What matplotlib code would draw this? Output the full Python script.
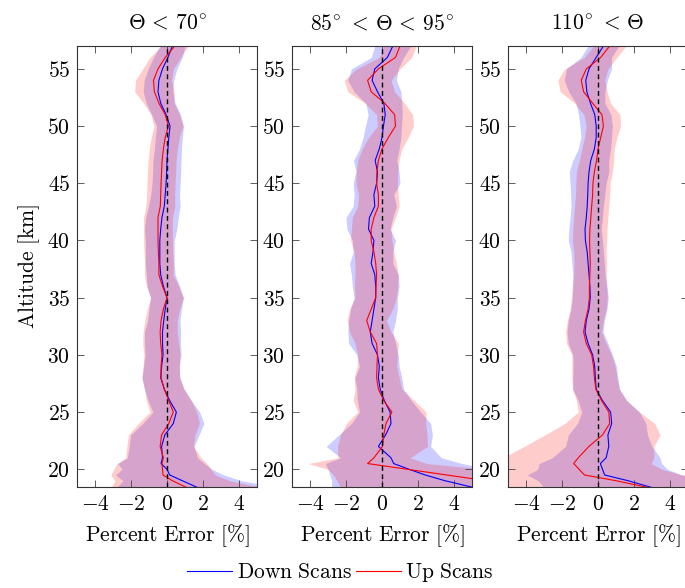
import matplotlib

matplotlib.use("Agg")
import matplotlib.pyplot as plt
import numpy as np

plt.rcParams["mathtext.fontset"] = "cm"
plt.rcParams["font.size"] = 11

# altitude grid [km], bottom to top
alt = [18.4, 19.0, 19.5, 20.0, 20.5, 21, 22, 23, 24, 25, 26, 27, 28, 29, 30, 31, 32, 33,
       34, 35, 36, 37, 38, 39, 40, 41, 42, 43, 44, 45, 46, 47, 48, 49, 50, 51, 52, 53,
       54, 55, 56, 57]

titles = [r"$\Theta\,<\,70^{\!\circ}$", r"$85^{\!\circ}\,<\,\Theta\,<\,95^{\!\circ}$",
          r"$110^{\!\circ}\,<\,\Theta$"]

# panel 1: Theta < 70
p1_down = [1.7, 0.85, 0.15, 0.0, -0.33, -0.25, -0.3, -0.12, 0.35, 0.52, 0.15, -0.15, -0.35,
           -0.3, -0.22, -0.25, -0.25, -0.18, -0.1, 0.0, -0.2, -0.35, -0.4, -0.4, -0.4, -0.35,
           -0.28, -0.15, -0.1, -0.05, -0.02, 0.0, 0.05, 0.1, 0.17, -0.05, -0.35, -0.5, -0.45,
           -0.25, 0.05, 0.3]
p1_up = [1.1, 0.3, -0.22, -0.25, -0.28, -0.2, -0.38, -0.3, 0.1, 0.35, 0.1, -0.15, -0.33,
         -0.33, -0.28, -0.35, -0.38, -0.33, -0.2, 0.0, -0.25, -0.45, -0.45, -0.48, -0.5, -0.5,
         -0.5, -0.37, -0.35, -0.33, -0.3, -0.27, -0.2, -0.1, 0.08, -0.1, -0.45, -0.7, -0.75,
         -0.5, -0.1, 0.43]
p1_down_sd = [4.5, 3.3, 3.0, 2.5, 2.4, 1.95, 1.8, 1.9, 1.7, 1.3, 1.2, 1.1, 1.05, 1.0, 1.0,
              1.0, 1.0, 0.9, 0.9, 0.92, 0.9, 0.8, 0.8, 0.8, 0.8, 0.9, 0.9, 0.88, 0.8, 0.78,
              0.78, 0.78, 0.75, 0.75, 0.75, 0.8, 0.8, 0.82, 0.82, 0.8, 0.8, 0.7]
p1_up_sd = [4.2, 3.2, 2.9, 2.7, 2.5, 2.1, 1.85, 1.85, 1.7, 1.3, 1.25, 1.1, 1.05, 1.0, 1.0,
            1.0, 0.95, 0.9, 0.9, 0.9, 0.9, 0.8, 0.8, 0.8, 0.8, 0.8, 0.8, 0.8, 0.78, 0.78,
            0.78, 0.78, 0.78, 0.78, 0.8, 0.8, 0.85, 1.1, 1.0, 0.85, 0.85, 0.75]

# panel 2: 85 < Theta < 95
p2_down = [5.1, 3.5, 2.4, 1.5, 0.65, 0.5, -0.2, 0.2, 0.5, 0.45, 0.13, -0.1, -0.2, -0.15,
           -0.25, -0.55, -0.65, -0.55, -0.45, -0.35, -0.35, -0.4, -0.6, -0.5, -0.45, -0.75,
           -0.7, -0.4, -0.45, -0.3, -0.25, -0.38, -0.15, 0.0, 0.08, 0.18, 0.1, -0.25, -0.55,
           -0.4, 0.3, 0.6]
p2_up = [7.0, 5.8, 3.6, 1.4, -0.8, -0.45, 0.03, 0.1, 0.22, 0.55, 0.1, -0.2, -0.3, -0.28,
         -0.25, -0.3, -0.65, -0.85, -0.6, -0.35, -0.33, -0.3, -0.35, -0.45, -0.6, -0.6,
         -0.45, -0.2, -0.2, -0.3, -0.28, -0.2, 0.0, 0.35, 0.75, 0.7, 0.15, -0.6, -0.8, -0.2,
         0.75, 1.0]
p2_down_sd = [7.9, 6.3, 5.3, 4.5, 3.8, 2.8, 2.9, 2.6, 2.2, 1.7, 1.5, 1.3, 1.3, 1.1, 1.15,
              1.3, 1.25, 1.3, 1.3, 1.2, 1.3, 1.3, 1.2, 1.1, 1.2, 1.2, 1.3, 1.2, 1.1, 1.3,
              1.2, 1.2, 1.1, 1.05, 1.0, 0.95, 1.0, 1.3, 1.35, 1.3, 0.9, 1.0]
p2_up_sd = [9.3, 8.3, 6.3, 4.4, 3.3, 2.0, 2.5, 2.4, 2.2, 1.9, 1.7, 1.3, 1.25, 1.1, 1.1,
            1.2, 1.15, 1.1, 1.2, 1.15, 1.2, 1.2, 1.15, 1.1, 1.15, 1.1, 1.2, 1.15, 1.1, 1.15,
            1.15, 1.15, 1.1, 1.1, 1.0, 1.0, 1.1, 1.3, 1.3, 1.2, 0.9, 0.9]

# panel 3: 110 < Theta
p3_down = [3.0, 1.67, 0.37, 0.25, 0.13, 0.45, 0.6, 0.55, 0.76, 0.7, 0.25, -0.1, -0.15,
           -0.18, -0.3, -0.55, -0.72, -0.65, -0.5, -0.43, -0.45, -0.5, -0.55, -0.6, -0.7,
           -0.72, -0.65, -0.6, -0.57, -0.55, -0.5, -0.4, -0.2, -0.1, -0.1, -0.18, -0.42,
           -0.62, -0.68, -0.5, -0.1, 0.3]
p3_up = [2.8, 1.0, -0.75, -1.05, -1.35, -1.1, -0.5, 0.25, 0.65, 0.6, 0.2, -0.12, -0.2,
         -0.25, -0.35, -0.65, -0.8, -0.7, -0.55, -0.48, -0.48, -0.45, -0.43, -0.45, -0.47,
         -0.45, -0.4, -0.35, -0.3, -0.28, -0.2, -0.08, 0.0, 0.15, 0.3, 0.22, -0.3, -0.8,
         -0.93, -0.65, 0.15, 0.65]
p3_down_sd = [6.0, 5.0, 4.3, 3.6, 3.4, 3.0, 2.4, 2.2, 1.9, 1.6, 1.35, 1.3, 1.25, 1.2, 1.1,
              1.1, 1.0, 1.0, 1.0, 1.0, 0.95, 0.9, 0.9, 0.9, 0.95, 0.9, 0.9, 0.9, 0.95, 1.0,
              1.1, 1.0, 0.9, 0.85, 0.9, 0.9, 0.8, 1.0, 1.2, 1.25, 0.85, 0.85]
p3_up_sd = [8.0, 6.5, 5.4, 4.6, 4.3, 4.2, 3.6, 3.2, 2.5, 1.7, 1.4, 1.3, 1.25, 1.2, 1.1,
            1.1, 1.0, 1.0, 1.0, 1.0, 0.95, 0.9, 0.9, 0.9, 0.95, 0.95, 0.95, 0.95, 0.95,
            0.95, 1.0, 0.95, 0.9, 0.9, 0.95, 1.0, 1.0, 1.3, 1.3, 1.2, 0.9, 0.9]

panels = [
    (p1_down, p1_down_sd, p1_up, p1_up_sd),
    (p2_down, p2_down_sd, p2_up, p2_up_sd),
    (p3_down, p3_down_sd, p3_up, p3_up_sd),
]

xticks = [-4, -2, 0, 2, 4]
yticks = [20, 25, 30, 35, 40, 45, 50, 55]

fs = 15.5
fig = plt.figure(figsize=(6.85, 5.88), dpi=100)
lefts = [77 / 685, 292 / 685, 508 / 685]
alt = np.array(alt)

for i, (down, down_sd, up, up_sd) in enumerate(panels):
    ax = fig.add_axes([lefts[i], 1 - 487 / 588, 180 / 685, 441 / 588])
    down, down_sd = np.array(down), np.array(down_sd)
    up, up_sd = np.array(up), np.array(up_sd)
    ax.fill_betweenx(alt, down - down_sd, down + down_sd, color="blue", alpha=0.2, lw=0)
    ax.fill_betweenx(alt, up - up_sd, up + up_sd, color="red", alpha=0.2, lw=0)
    ax.plot(down, alt, color="blue", lw=0.8, label=r"$\mathrm{Down\ Scans}$")
    ax.plot(up, alt, color="red", lw=0.8, label=r"$\mathrm{Up\ Scans}$")
    ax.axvline(0, color="black", lw=1.0, ls=(0, (3.5, 2.5)))
    ax.set_xlim(-5, 5)
    ax.set_ylim(18.45, 57)
    ax.set_xticks(xticks)
    ax.set_xticklabels([f"${t}$" for t in xticks])
    ax.set_yticks(yticks)
    ax.set_yticklabels([f"${t}$" for t in yticks])
    ax.tick_params(direction="in", length=5, width=0.6, top=True, right=True,
                   labelsize=fs, pad=5, color="#444444")
    for s in ax.spines.values():
        s.set_linewidth(0.8)
        s.set_color("#333333")
    ax.set_title(titles[i], fontsize=fs, pad=12)
    ax.set_xlabel(r"$\mathrm{Percent\ Error\ [\%]}$", fontsize=fs, labelpad=6)
    if i == 0:
        ax.set_ylabel(r"$\mathrm{Altitude\ [km]}$", fontsize=fs, labelpad=4)
        handles, labels = ax.get_legend_handles_labels()

fig.legend(handles, labels, loc="lower center", bbox_to_anchor=(0.497, -0.016), ncol=2,
           frameon=False, fontsize=fs, handlelength=2.1, handletextpad=0.2,
           columnspacing=0.2, borderpad=0.1)

fig.savefig("out.png", dpi=100)
